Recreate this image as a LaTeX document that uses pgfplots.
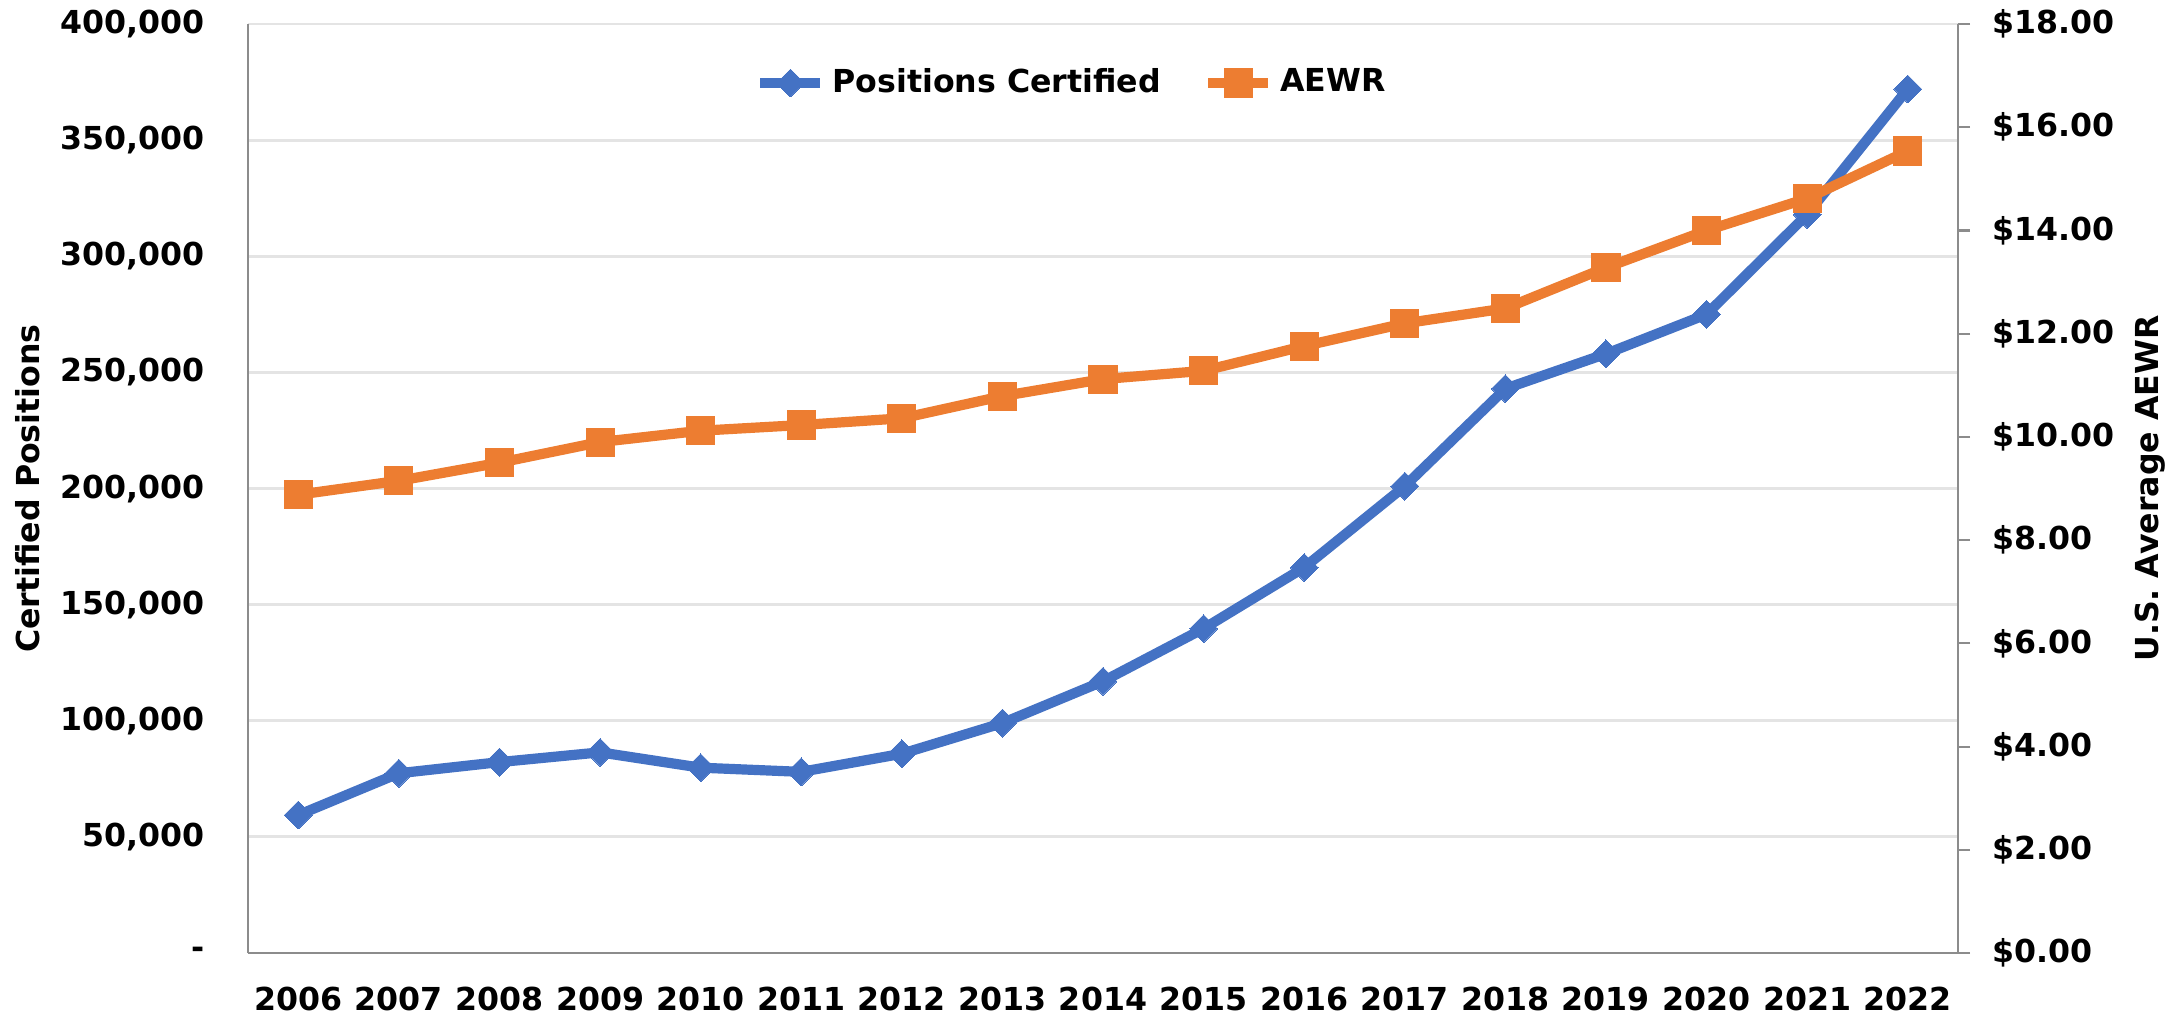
\documentclass[border=0pt]{standalone}
\usepackage{fontspec}
\setmainfont{DejaVu Sans}
\usepackage{pgfplots}
\pgfplotsset{compat=1.18}
\usetikzlibrary{calc}

\definecolor{cblue}{HTML}{4472C4}
\definecolor{corange}{HTML}{ED7D31}
\definecolor{gridc}{HTML}{E4E4E4}
\definecolor{axc}{HTML}{8C8C8C}

\newcommand{\chartfont}{\bfseries\fontsize{9}{10}\selectfont}

\begin{document}
\begin{tikzpicture}
\pgfplotsset{
  base/.style={
    width=171mm, height=92.9mm, scale only axis,
    xmin=-0.5, xmax=16.5,
    tick label style={font=\chartfont},
    label style={font=\chartfont},
    axis line style={axc, line width=0.6pt},
  },
  blueline/.style={cblue, line width=2.9pt, mark=square*, mark size=2.8pt,
    mark options={rotate=45, fill=cblue, draw=cblue, line width=0pt}},
  orangeline/.style={corange, line width=2.9pt, mark=square*, mark size=4pt,
    mark options={fill=corange, draw=corange, line width=0pt}},
}
% left axis: certified positions
\begin{axis}[base,
  ymin=0, ymax=400000,
  axis x line*=bottom, axis y line*=left,
  xtick={0,...,16},
  xticklabels={2006,2007,2008,2009,2010,2011,2012,2013,2014,2015,2016,2017,2018,2019,2020,2021,2022},
  xticklabel style={yshift=-2.2mm},
  ytick={0,50000,...,400000},
  yticklabels={-,{50,000},{100,000},{150,000},{200,000},{250,000},{300,000},{350,000},{400,000}},
  yticklabel style={xshift=-3.1mm},
  major tick length=0pt,
  ymajorgrids, grid style={gridc, line width=0.8pt},
  ylabel={Certified Positions},
  ylabel style={at={(axis description cs:-0.1287,0.5)}, anchor=center},
]
\addplot[blueline] coordinates {
  (0,59400) (1,77400) (2,82200) (3,86400) (4,79800) (5,78000) (6,85800)
  (7,99000) (8,117000) (9,139700) (10,166000) (11,201000) (12,243000)
  (13,258000) (14,275000) (15,318000) (16,372000)
};
\end{axis}
% right axis: AEWR
\begin{axis}[base,
  ymin=0, ymax=18,
  axis x line=none, axis y line*=right,
  ytick={0,2,...,18},
  yticklabels={\$0.00,\$2.00,\$4.00,\$6.00,\$8.00,\$10.00,\$12.00,\$14.00,\$16.00,\$18.00},
  tick align=outside, major tick length=1.2mm,
  tick style={axc, line width=0.6pt},
  yticklabel style={xshift=1.0mm},
  ylabel={U.S. Average AEWR},
  ylabel style={at={(axis description cs:1.1123,0.5)}, anchor=center},
  legend columns=2,
  legend style={draw=none, fill=none, font=\chartfont,
    at={(0.483,0.9365)}, anchor=center,
    /tikz/every even column/.append style={column sep=3.5mm}},
]
\addlegendimage{blueline}
\addlegendentry{Positions Certified}
\addplot[orangeline] coordinates {
  (0,8.88) (1,9.15) (2,9.50) (3,9.90) (4,10.12) (5,10.23) (6,10.36)
  (7,10.79) (8,11.12) (9,11.28) (10,11.76) (11,12.20) (12,12.49)
  (13,13.28) (14,14.00) (15,14.62) (16,15.54)
};
\addlegendentry{AEWR}
\coordinate (A) at (rel axis cs:0,0);
\coordinate (B) at (rel axis cs:1,1);
\end{axis}
\pgfresetboundingbox
\path[use as bounding box] ($(A)+(-24.8mm,-6.5mm)$) rectangle ($(B)+(22.6mm,2.4mm)$);
\end{tikzpicture}
\end{document}
